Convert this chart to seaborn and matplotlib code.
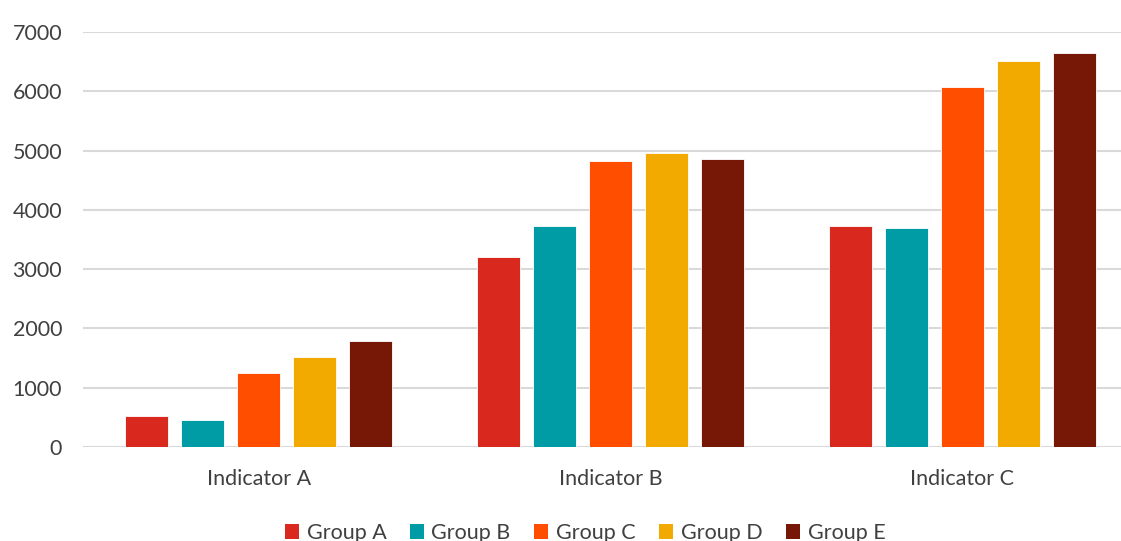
import matplotlib
matplotlib.use("Agg")
import matplotlib.pyplot as plt
import seaborn as sns
import pandas as pd
from matplotlib.patches import Patch

categories = ["Indicator A", "Indicator B", "Indicator C"]
groups = ["Group A", "Group B", "Group C", "Group D", "Group E"]
group_a = [520, 3210, 3727]
group_b = [463, 3727, 3688]
group_c = [1240, 4822, 6075]
group_d = [1515, 4966, 6514]
group_e = [1780, 4856, 6646]
colors = ["#D9291F", "#009CA6", "#FF4E00", "#F2A900", "#761805"]
yticks = [0, 1000, 2000, 3000, 4000, 5000, 6000, 7000]

series = [group_a, group_b, group_c, group_d, group_e]
rows = []
for g, vals in zip(groups, series):
    for c, v in zip(categories, vals):
        rows.append({"category": c, "group": g, "value": v})
df = pd.DataFrame(rows)

sns.set_theme(style="white")
plt.rcParams["font.family"] = ["Lato", "DejaVu Sans"]

fs = 15.5
fig = plt.figure(figsize=(11.21, 5.41), dpi=100)
ax = fig.add_axes([83 / 1121, 1 - 447 / 541, 1055 / 1121, (447 - 32) / 541])

sns.barplot(data=df, x="category", y="value", hue="group", order=categories,
            hue_order=groups, palette=colors, saturation=1, width=0.796, gap=0.23,
            edgecolor="white", linewidth=0.6, ax=ax, legend=False, errorbar=None)

ax.set_xlim(-0.5, 2.5)
ax.set_ylim(0, 7000)
ax.set_yticks(yticks)
ax.set_yticklabels([str(t) for t in yticks])
ax.yaxis.grid(True, color="#D9D9D9", linewidth=1.5)
ax.set_axisbelow(True)
for s in ax.spines.values():
    s.set_visible(False)
ax.set_xlabel("")
ax.set_ylabel("")
ax.tick_params(axis="y", length=0, pad=15, labelsize=fs, labelcolor="#404040")
ax.tick_params(axis="x", length=0, pad=16, labelsize=fs, labelcolor="#404040")

handles = [Patch(facecolor=c, edgecolor="none") for c in colors]
fig.legend(handles, groups, loc="center", bbox_to_anchor=(0.522, 0.015),
           bbox_transform=fig.transFigure, ncol=5, frameon=False,
           fontsize=fs, handlelength=0.65, handleheight=0.65, handletextpad=0.35,
           columnspacing=1.1, labelcolor="#404040")

fig.savefig("out.png", dpi=100)
